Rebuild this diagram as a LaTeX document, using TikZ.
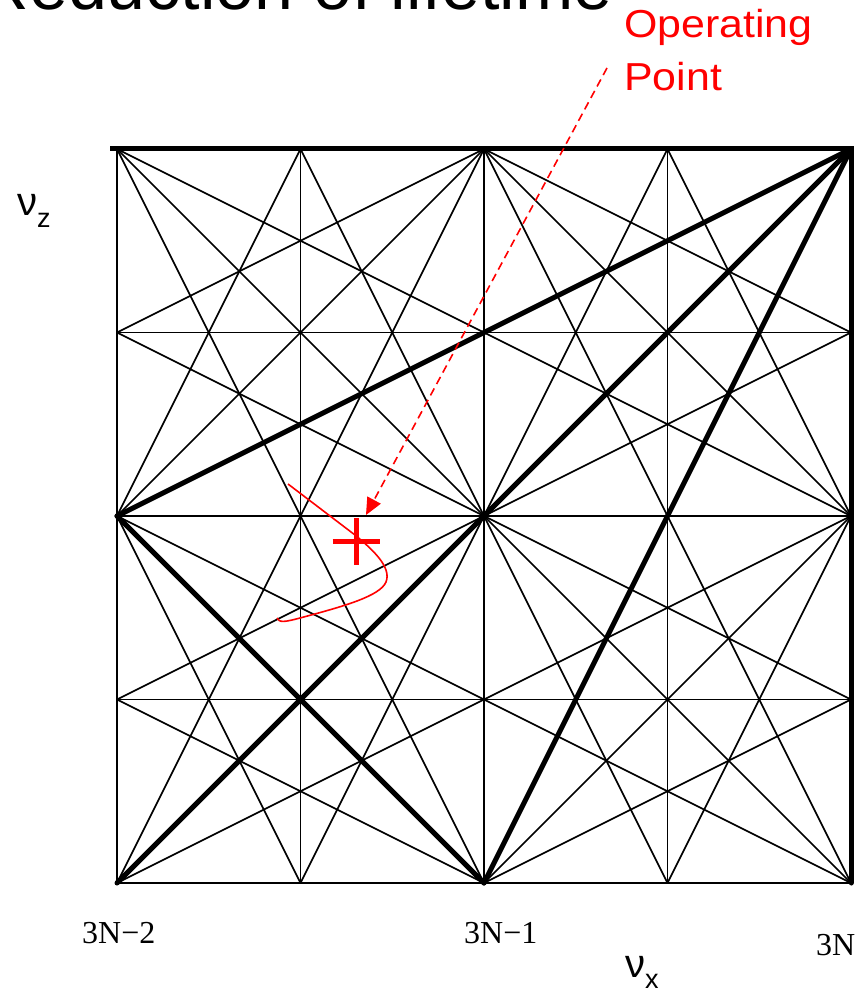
\documentclass[tikz,border=0pt]{standalone}
\usepackage{fontspec}
\setmainfont{Liberation Serif}
\newfontfamily\arial{Liberation Sans}
\usetikzlibrary{arrows.meta}
\begin{document}
\begin{tikzpicture}[x=1pt,y=-1pt,
  thinline/.style={line width=1.7pt, black},
  thickline/.style={line width=5pt, black, line cap=round},
  redtxt/.style={text=red, font=\arial\fontsize{39}{46}\selectfont, inner sep=0pt, xscale=1.1},
  ticklabel/.style={font=\fontsize{32}{36}\selectfont, inner sep=0pt, anchor=base west},
  axlabel/.style={font=\arial\fontsize{40}{44}\selectfont, inner sep=0pt, anchor=base west},
  redline/.style={red, line width=1.6pt}]
\useasboundingbox (0,0) rectangle (865,995);
\clip (0,0) rectangle (865,995);
% lattice points
\foreach \i in {0,...,4} {
  \foreach \j in {0,...,4} {
    \coordinate (P\i\j) at ({117+183.5*\i},{883-183.5*\j});
  }
}
% thin resonance lines
\foreach \a/\b in {P00/P04, P10/P14, P20/P24, P30/P34,
                   P00/P40, P01/P41, P02/P42, P03/P43,
                   P04/P40, P24/P42, P02/P24, P20/P42,
                   P02/P10, P04/P20, P14/P30, P24/P40, P34/P42,
                   P02/P14, P00/P24, P10/P34, P30/P42,
                   P01/P20, P02/P40, P03/P41, P04/P42, P24/P43,
                   P03/P24, P01/P43, P00/P42, P20/P41}
  \draw[thinline] (\a) -- (\b);
% thick resonance lines
\foreach \a/\b in {P44/P40, P02/P20, P00/P44, P20/P44, P02/P44}
  \draw[thickline] (\a) -- (\b);
\draw[thickline, line cap=rect] ([xshift=-5pt]P04) -- (P44);
% title (cut by the top border, as in the reference)
\node[anchor=base east, inner sep=0pt, font=\arial\fontsize{70}{80}\selectfont] (title) at (613,9.5) {Reduction of lifetime};
% operating point label
\node[redtxt, anchor=base west] (op1) at (624,38) {Operating};
\node[redtxt, anchor=base west] (op2) at (624,91) {Point};
% dashed arrow
\coordinate (arrS) at (607,68);
\coordinate (arrE) at (366,515);
\draw[redline, dash pattern=on 8pt off 5pt, -{Triangle[length=17pt,width=15pt]}] (arrS) -- (arrE);
% operating point mark
\coordinate (opt) at (356,541);
\draw[red, line width=5pt] ([xshift=-23.5pt]opt) -- ([xshift=23.5pt]opt);
\draw[red, line width=5pt] ([yshift=-23.5pt]opt) -- ([yshift=23.5pt]opt);
% red trajectory
\coordinate (trS) at (288,484);
\coordinate (trA) at (355,535);
\coordinate (trB) at (386,582);
\coordinate (trC) at (300,618);
\coordinate (trE) at (277,618);
\draw[redline] (trS) -- (trA) .. controls (372,549) and (392,567) .. (trB)
  .. controls (380,596) and (345,606) .. (trC)
  .. controls (285,622) and (279,623) .. (trE);
% axis labels
\node[axlabel] (nuz) at (17,215) {ν\raisebox{-12pt}{\fontsize{27}{30}\selectfont z}};
\node[axlabel] (nux) at (625,977) {ν\raisebox{-11pt}{\fontsize{27}{30}\selectfont x}};
\node[ticklabel] (t1) at (82,943) {3N−2};
\node[ticklabel] (t2) at (464,943) {3N−1};
\node[ticklabel] (t3) at (816,955) {3N};
\end{tikzpicture}
\end{document}
